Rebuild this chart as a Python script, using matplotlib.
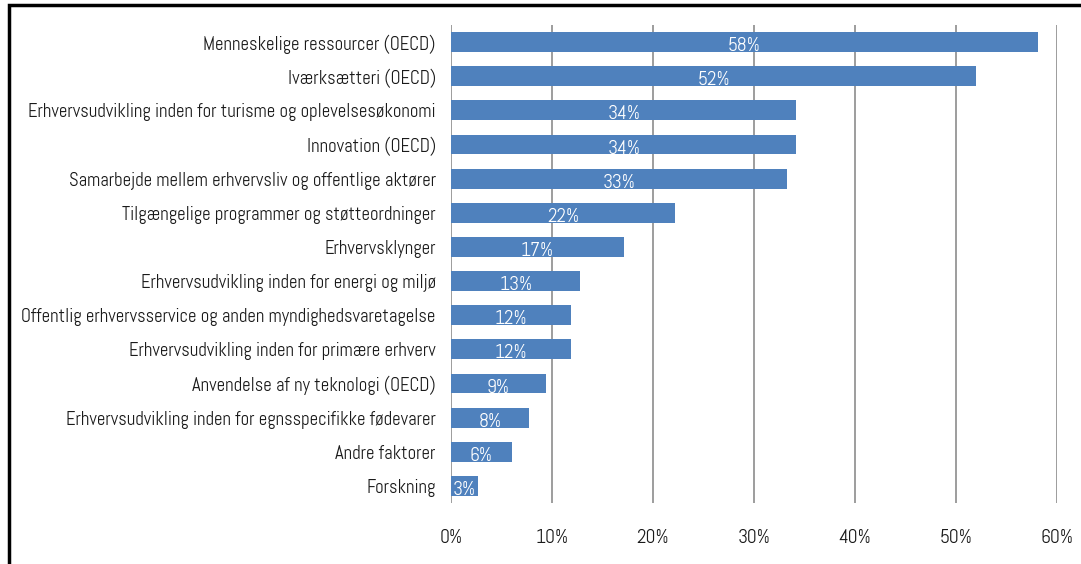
import matplotlib.pyplot as plt
from matplotlib.patches import Rectangle

categories = [
    "Menneskelige ressourcer (OECD)",
    "Iværksætteri (OECD)",
    "Erhvervsudvikling inden for turisme og oplevelsesøkonomi",
    "Innovation (OECD)",
    "Samarbejde mellem erhvervsliv og offentlige aktører",
    "Tilgængelige programmer og støtteordninger",
    "Erhvervsklynger",
    "Erhvervsudvikling inden for energi og miljø",
    "Offentlig erhvervsservice og anden myndighedsvaretagelse",
    "Erhvervsudvikling inden for primære erhverv",
    "Anvendelse af ny teknologi (OECD)",
    "Erhvervsudvikling inden for egnsspecifikke fødevarer",
    "Andre faktorer",
    "Forskning",
]
values = [58.1, 52.0, 34.2, 34.2, 33.3, 22.2, 17.1, 12.8, 11.9, 11.9, 9.4, 7.7, 6.0, 2.7]
xticks = [0, 10, 20, 30, 40, 50, 60]

# narrow DIN-like face, falls back to DejaVu if missing
plt.rcParams["font.family"] = ["Abel", "Archivo Narrow", "DejaVu Sans"]

fig = plt.figure(figsize=(10.81, 5.64), dpi=100)
ax = fig.add_axes([0.4172, 0.1082, 0.5606, 0.8475])

pos = list(range(len(categories)))
ax.barh(pos, values, height=0.58, color="#4f81bd", zorder=3)
for y, v in zip(pos, values):
    ax.text(v / 2, y + 0.12, f"{round(v)}%", color="white", ha="center", va="center",
            fontsize=14, zorder=4)

ax.set_ylim(len(categories) - 0.5, -0.5)
ax.set_xlim(0, 60)
ax.set_yticks(pos)
ax.set_yticklabels(categories, fontsize=13.4, color="#1a1a1a")
ax.set_xticks(xticks)
ax.set_xticklabels([f"{t}%" for t in xticks], fontsize=14, color="#1a1a1a")
ax.tick_params(length=0)
ax.tick_params(axis="y", pad=11)
ax.tick_params(axis="x", pad=19)
ax.grid(axis="x", color="#8c8c8c", linewidth=1.2, zorder=0)
for s in ax.spines.values():
    s.set_visible(False)

fig.patches.append(Rectangle((9 / 1081, -0.1), 1.2, 1.1 - 5 / 564, transform=fig.transFigure,
                             fill=False, edgecolor="black", linewidth=2.5))

fig.savefig("out.png", dpi=100)
